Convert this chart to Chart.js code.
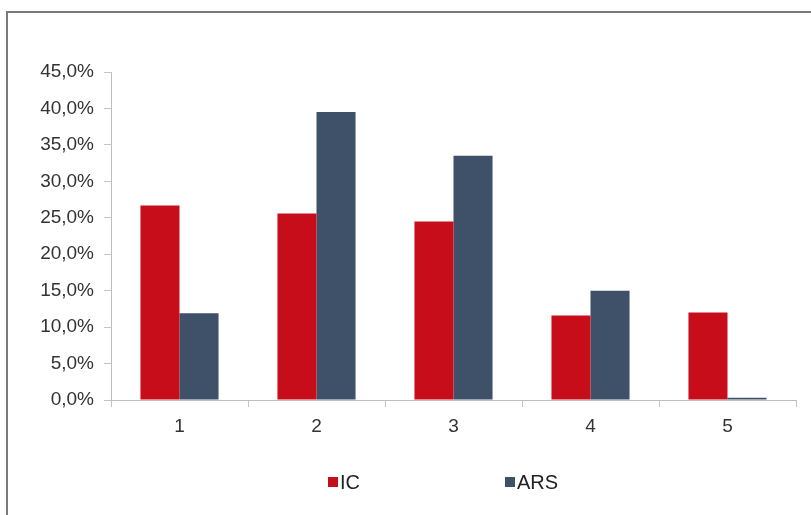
<!DOCTYPE html>
<html>
<head>
<meta charset="utf-8">
<script src="https://cdn.jsdelivr.net/npm/chart.js@4/dist/chart.umd.min.js"></script>
<style>
  html, body { margin: 0; padding: 0; background: #fff; }
  #wrap { position: relative; width: 811px; height: 515px; overflow: hidden; }
  #frame { position: absolute; left: 6px; top: 11px; width: 900px; height: 600px;
           border: 2px solid #7a7a7a; box-sizing: border-box; }
  #c { position: absolute; left: 0; top: 0; }
</style>
</head>
<body>
<div id="wrap">
  <div id="frame"></div>
  <canvas id="c" width="811" height="515"></canvas>
</div>
<script>
// Categories and series (percent values)
const categories = ['1', '2', '3', '4', '5'];
const icValues  = [26.7, 25.6, 24.5, 11.6, 12.0];
const arsValues = [11.9, 39.5, 33.5, 15.0, 0.3];
const yTickValues = [0, 5, 10, 15, 20, 25, 30, 35, 40, 45];

const fmtPct = v => v.toFixed(1).replace('.', ',') + '%';
const fontFamily = 'Liberation Sans, Arial, sans-serif';
const tickFont = { family: fontFamily, size: 19 };

// Widely spaced legend row under the plot, built from the datasets
const spacedLegend = {
  id: 'spacedLegend',
  afterDraw(chart) {
    const ctx = chart.ctx;
    const slots = [328, 505];
    const y = 482;
    ctx.save();
    ctx.font = '20px ' + fontFamily;
    ctx.textBaseline = 'middle';
    ctx.textAlign = 'left';
    chart.data.datasets.forEach((ds, i) => {
      const x = slots[i];
      ctx.fillStyle = ds.backgroundColor;
      ctx.fillRect(x, y - 5, 10, 10);
      ctx.fillStyle = '#222';
      ctx.fillText(ds.label, x + 12, y + 1);
    });
    ctx.restore();
  }
};

new Chart(document.getElementById('c'), {
  type: 'bar',
  data: {
    labels: categories,
    datasets: [
      { label: 'IC',  data: icValues,  backgroundColor: '#c80d1a', borderWidth: 0 },
      { label: 'ARS', data: arsValues, backgroundColor: '#3e5169', borderWidth: 0 }
    ]
  },
  options: {
    responsive: false,
    animation: false,
    layout: { padding: { top: 72, right: 15, bottom: 65, left: 0 } },
    datasets: { bar: { categoryPercentage: 0.57, barPercentage: 1.0 } },
    plugins: {
      tooltip: { enabled: false },
      legend: { display: false }
    },
    scales: {
      x: {
        grid: { drawOnChartArea: false, offset: true, tickLength: 7, color: '#c4c4c4' },
        border: { color: '#bdbdbd', width: 1 },
        ticks: { font: tickFont, color: '#333', padding: 8 },
        afterFit: s => { s.height = 50; }
      },
      y: {
        min: 0, max: 45,
        afterBuildTicks: s => { s.ticks = yTickValues.map(v => ({ value: v })); },
        grid: { drawOnChartArea: false, tickLength: 7, color: '#c4c4c4' },
        border: { color: '#bdbdbd', width: 1 },
        ticks: { font: tickFont, color: '#333', padding: 10, callback: v => fmtPct(v) },
        afterFit: s => { s.width = 111; }
      }
    }
  },
  plugins: [spacedLegend]
});
</script>
</body>
</html>
